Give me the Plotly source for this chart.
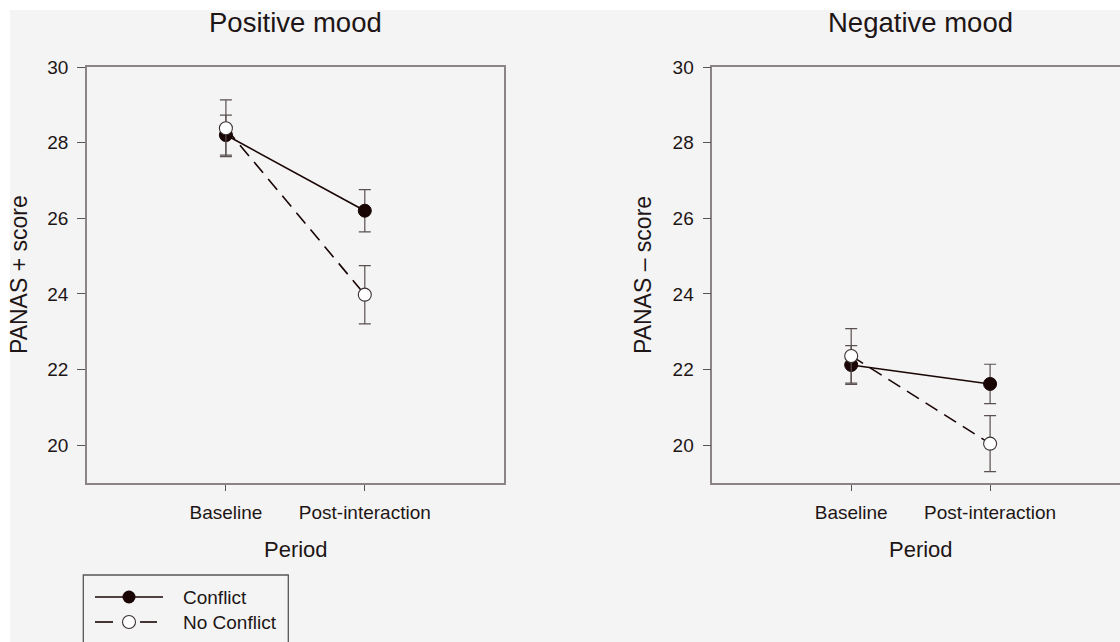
import plotly.graph_objects as go

periods = ["Baseline", "Post-interaction"]
period_pos = [1, 2]

pos_conflict = [28.2, 26.2]
pos_conflict_err = [0.53, 0.56]
pos_noconflict = [28.38, 23.98]
pos_noconflict_err = [0.75, 0.77]

neg_conflict = [22.12, 21.62]
neg_conflict_err = [0.51, 0.52]
neg_noconflict = [22.36, 20.04]
neg_noconflict_err = [0.72, 0.74]

y_ticks = [20, 22, 24, 26, 28, 30]

W, H = 1120, 642
TXT = "#1e1616"
FRAME = "#8a8486"
ERR = "#5a5050"
FILL = "#1a0505"
FONT = "Liberation Sans, Arial, sans-serif"

fig = go.Figure()

def add_panel(xa, ya, conf, conf_err, noc, noc_err):
    fig.add_trace(go.Scatter(
        x=period_pos, y=conf, xaxis=xa, yaxis=ya, mode="lines+markers",
        line=dict(color=FILL, width=1.6),
        marker=dict(size=13, color=FILL, line=dict(color=FILL, width=1)),
        error_y=dict(type="data", array=conf_err, visible=True, color=ERR, thickness=1.2, width=6),
        showlegend=False))
    fig.add_trace(go.Scatter(
        x=period_pos, y=noc, xaxis=xa, yaxis=ya, mode="lines+markers",
        line=dict(color=FILL, width=1.6, dash="14px,8px"),
        marker=dict(size=13, color="white", line=dict(color="#3a3030", width=1.1)),
        error_y=dict(type="data", array=noc_err, visible=True, color=ERR, thickness=1.2, width=6),
        showlegend=False))

add_panel("x", "y", pos_conflict, pos_conflict_err, pos_noconflict, pos_noconflict_err)
add_panel("x2", "y2", neg_conflict, neg_conflict_err, neg_noconflict, neg_noconflict_err)

# legend keys drawn on a full-page pixel axis
fig.add_trace(go.Scatter(x=[95, 129, 163], y=[597, 597, 597], xaxis="x3", yaxis="y3",
                         mode="lines", line=dict(color=FILL, width=1.6), showlegend=False, hoverinfo="skip"))
fig.add_trace(go.Scatter(x=[129], y=[597], xaxis="x3", yaxis="y3", mode="markers",
                         marker=dict(size=13, color=FILL), showlegend=False, hoverinfo="skip"))
fig.add_trace(go.Scatter(x=[95, 113, None, 140, 157], y=[622, 622, None, 622, 622], xaxis="x3", yaxis="y3",
                         mode="lines", line=dict(color=FILL, width=1.6), showlegend=False, hoverinfo="skip"))
fig.add_trace(go.Scatter(x=[129], y=[622], xaxis="x3", yaxis="y3", mode="markers",
                         marker=dict(size=13, color="white", line=dict(color="#3a3030", width=1.1)),
                         showlegend=False, hoverinfo="skip"))

L1, R1 = 87, 503.7
L2 = 712.3
TOP, BOT = 67, 483
xr2 = 3 * (W - L2) / (R1 - L1)

common_y = dict(range=[19, 30], tickvals=y_ticks, ticks="outside", ticklen=8, tickcolor="#555",
                showline=True, linecolor=FRAME, linewidth=1.5, showgrid=False, zeroline=False,
                tickfont=dict(size=19, color=TXT, family=FONT), ticklabelstandoff=5,
                domain=[1 - BOT / H, 1 - TOP / H], automargin=False)
common_x = dict(tickvals=period_pos, ticktext=periods, ticks="outside", ticklen=6, tickcolor="#555",
                showline=True, linecolor=FRAME, linewidth=1.5, showgrid=False, zeroline=False,
                tickfont=dict(size=19, color=TXT, family=FONT), ticklabelstandoff=5, automargin=False)

fig.update_layout(
    template="none",
    width=W, height=H, margin=dict(l=0, r=0, t=0, b=0, pad=0, autoexpand=False), autosize=False,
    paper_bgcolor="white", plot_bgcolor="rgba(0,0,0,0)",
    font=dict(family=FONT, color=TXT),
    xaxis=dict(common_x, domain=[L1 / W, R1 / W], range=[0, 3], mirror=True),
    yaxis=dict(common_y, mirror=True),
    xaxis2=dict(common_x, domain=[L2 / W, 1], range=[0, xr2], mirror=True, anchor="y2"),
    yaxis2=dict(common_y, anchor="x2"),
    xaxis3=dict(domain=[0, 1], range=[0, W], visible=False, anchor="y3", fixedrange=True, automargin=False),
    yaxis3=dict(domain=[0, 1], range=[H, 0], visible=False, anchor="x3", fixedrange=True, automargin=False),
    showlegend=False,
)

shapes = [
    dict(type="rect", xref="paper", yref="paper", x0=10 / W, x1=1, y0=0, y1=1 - 10 / H,
         fillcolor="#f4f4f4", line=dict(width=0), layer="below"),
    dict(type="rect", xref="x3", yref="y3", x0=83.3, x1=288.3, y0=575, y1=660,
         line=dict(color="#555", width=1.3), fillcolor="rgba(0,0,0,0)"),
]
fig.update_layout(shapes=shapes)

def ann(text, x, y, size, angle=0):
    return dict(text=text, x=x / W, y=1 - y / H, xref="paper", yref="paper", showarrow=False,
                xanchor="center", yanchor="middle", textangle=angle,
                font=dict(size=size, color=TXT, family=FONT))

fig.update_layout(annotations=[
    ann("Positive mood", 295.5, 23, 27.5),
    ann("Negative mood", 920.5, 23, 27.5),
    ann("Period", 295.5, 549, 22),
    ann("Period", 920.5, 549, 22),
    ann("PANAS + score", 19, 275, 23, -90),
    ann("PANAS \u2013 score", 643, 275, 23, -90),
    dict(text="Conflict", x=180.5 / W, y=1 - 597 / H, xref="paper", yref="paper", showarrow=False,
         xanchor="left", yanchor="middle", font=dict(size=19, color=TXT, family=FONT)),
    dict(text="No Conflict", x=180.5 / W, y=1 - 622 / H, xref="paper", yref="paper", showarrow=False,
         xanchor="left", yanchor="middle", font=dict(size=19, color=TXT, family=FONT)),
])

fig.write_html("out.html", config={"displayModeBar": False},
               post_script="document.body.style.margin='0';document.body.style.overflow='hidden';")
